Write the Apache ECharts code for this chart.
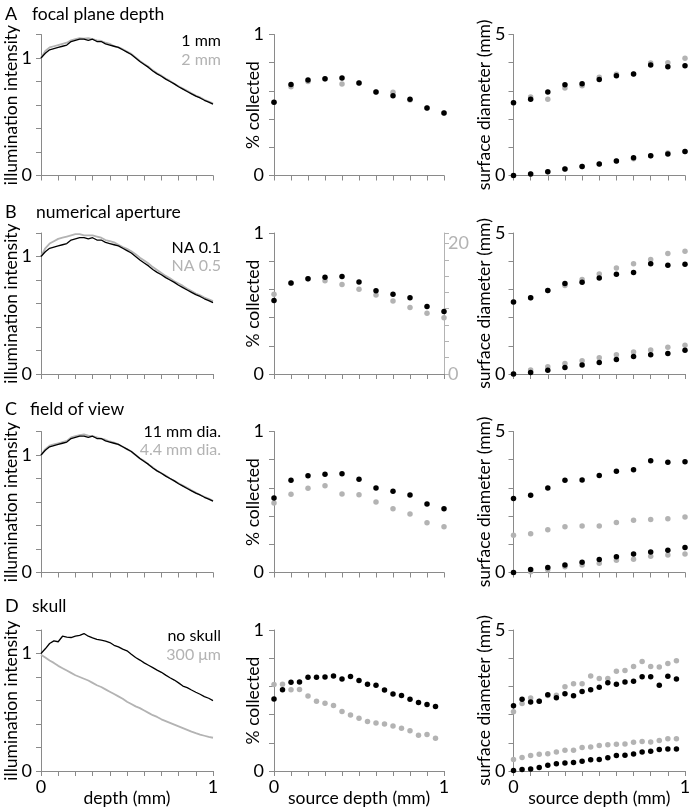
<!DOCTYPE html>
<html><head><meta charset="utf-8">
<script src="https://cdn.jsdelivr.net/npm/echarts@6/dist/echarts.min.js"></script>
<style>html,body{margin:0;padding:0;background:#fff}#c{width:695px;height:810px}</style>
</head><body><div id="c"></div>
<script>
// ---------- DATA ----------
// illumination curves sampled every 0.025 mm (41 samples)
const lineDepth = Array.from({length: 41}, (_, i) => i / 40);
const illum_ref = [1.00,1.04,1.07,1.08,1.09,1.10,1.11,1.14,1.15,1.16,1.16,1.15,1.16,1.14,1.14,1.12,1.11,1.10,1.09,1.07,1.05,1.03,1.00,0.97,0.945,0.92,0.89,0.865,0.845,0.82,0.80,0.78,0.755,0.735,0.715,0.695,0.675,0.66,0.64,0.625,0.607];
const illumA_2mm = [1.00,1.06,1.09,1.10,1.11,1.12,1.13,1.15,1.16,1.17,1.165,1.17,1.16,1.15,1.145,1.13,1.12,1.10,1.09,1.075,1.055,1.035,1.005,0.975,0.95,0.925,0.895,0.87,0.85,0.825,0.805,0.78,0.76,0.74,0.72,0.70,0.68,0.665,0.645,0.63,0.615];
const illumB_NA05 = [1.00,1.07,1.11,1.13,1.15,1.16,1.17,1.18,1.19,1.19,1.18,1.18,1.18,1.17,1.16,1.14,1.13,1.12,1.10,1.08,1.065,1.045,1.02,0.99,0.965,0.94,0.91,0.885,0.86,0.835,0.815,0.79,0.77,0.75,0.725,0.705,0.685,0.67,0.65,0.635,0.62];
const illumC_44mm = [1.00,1.05,1.08,1.09,1.10,1.11,1.12,1.15,1.16,1.17,1.175,1.165,1.16,1.15,1.14,1.13,1.115,1.105,1.09,1.07,1.05,1.03,1.00,0.97,0.95,0.92,0.895,0.865,0.845,0.825,0.80,0.78,0.76,0.74,0.72,0.70,0.68,0.66,0.645,0.63,0.61];
const illumD_noSkull = [1.00,1.04,1.085,1.107,1.10,1.147,1.14,1.136,1.147,1.155,1.17,1.147,1.133,1.12,1.113,1.105,1.093,1.07,1.056,1.037,1.023,0.994,0.966,0.944,0.92,0.90,0.88,0.859,0.84,0.816,0.794,0.774,0.75,0.723,0.709,0.689,0.67,0.653,0.633,0.619,0.599];
const illumD_300um = [0.99,0.965,0.94,0.92,0.895,0.875,0.855,0.835,0.815,0.80,0.785,0.77,0.75,0.73,0.715,0.695,0.675,0.655,0.635,0.615,0.59,0.57,0.55,0.535,0.515,0.495,0.475,0.46,0.44,0.425,0.41,0.395,0.38,0.365,0.35,0.335,0.322,0.31,0.30,0.29,0.283];

// source depths
const src11 = [0,0.1,0.2,0.3,0.4,0.5,0.6,0.7,0.8,0.9,1.0];
const src20 = [0,0.05,0.1,0.15,0.2,0.25,0.3,0.35,0.4,0.45,0.5,0.55,0.6,0.65,0.7,0.75,0.8,0.85,0.9,0.95];

// % collected
const collA_1mm = [0.519,0.645,0.678,0.687,0.692,0.656,0.592,0.566,0.540,0.479,0.443];
const collA_2mm = [0.519,0.630,0.666,0.685,0.649,0.656,0.592,0.590,0.536,0.479,0.443];
const collB_NA01 = [0.521,0.645,0.675,0.687,0.692,0.652,0.590,0.566,0.540,0.479,0.443];
const collB_NA05 = [12.2,13.9,14.6,14.3,13.7,13.0,12.1,11.2,10.2,9.3,8.6]; // right axis
const collC_11mm = [0.528,0.654,0.687,0.697,0.701,0.661,0.600,0.576,0.550,0.486,0.453];
const collC_44mm = [0.493,0.555,0.597,0.616,0.557,0.552,0.500,0.453,0.415,0.353,0.325];
const collD_noSkull = [0.511,0.576,0.630,0.632,0.665,0.665,0.667,0.674,0.653,0.670,0.642,0.616,0.609,0.574,0.546,0.536,0.508,0.485,0.471,0.457];
const collD_300um = [0.614,0.616,0.576,0.578,0.532,0.494,0.480,0.464,0.422,0.398,0.375,0.351,0.340,0.333,0.319,0.304,0.286,0.253,0.258,0.232];

// surface diameter (mm): outer / inner
const diamA_1mm_out = [2.58,2.70,2.96,3.22,3.25,3.40,3.54,3.60,3.92,3.86,3.89];
const diamA_2mm_out = [2.58,2.78,2.70,3.10,3.18,3.48,3.59,3.60,3.99,4.00,4.16];
const diamA_1mm_in = [0,0.05,0.13,0.23,0.32,0.41,0.51,0.63,0.70,0.76,0.85];
const diamA_2mm_in = [0,0.05,0.13,0.23,0.32,0.41,0.51,0.59,0.70,0.80,0.85];
const diamB_NA01_out = [2.55,2.70,2.96,3.21,3.25,3.40,3.54,3.60,3.91,3.86,3.89];
const diamB_NA05_out = [2.55,2.70,2.96,3.14,3.35,3.55,3.76,3.91,4.06,4.27,4.35];
const diamB_NA01_in = [0,0.05,0.13,0.23,0.32,0.41,0.51,0.62,0.68,0.73,0.84];
const diamB_NA05_in = [0,0.14,0.26,0.37,0.47,0.58,0.68,0.78,0.85,0.95,1.02];
const diamC_11mm_out = [2.62,2.74,3.00,3.27,3.28,3.44,3.59,3.64,3.96,3.91,3.93];
const diamC_44mm_out = [1.32,1.37,1.52,1.62,1.65,1.65,1.77,1.85,1.88,1.91,1.97];
const diamC_11mm_in = [0,0.11,0.18,0.27,0.36,0.46,0.56,0.66,0.73,0.79,0.89];
const diamC_44mm_in = [0,0.03,0.10,0.20,0.27,0.33,0.43,0.47,0.58,0.62,0.66];
const diamD_noSkull_out = [2.31,2.54,2.45,2.47,2.70,2.60,2.74,2.67,2.82,2.88,2.97,3.13,3.08,3.16,3.18,3.34,3.34,3.04,3.36,3.26];
const diamD_300um_out = [2.10,2.39,2.59,2.47,2.68,2.69,2.99,3.09,3.09,3.37,3.28,3.28,3.54,3.56,3.71,3.88,3.71,3.69,3.81,3.91];
const diamD_noSkull_in = [0.02,0.05,0.07,0.12,0.20,0.26,0.28,0.30,0.35,0.40,0.41,0.47,0.55,0.56,0.60,0.67,0.70,0.76,0.78,0.78];
const diamD_300um_in = [0.41,0.48,0.55,0.59,0.61,0.67,0.74,0.74,0.83,0.85,0.90,0.93,0.95,0.96,1.02,1.05,1.03,1.08,1.14,1.14];

const rowTitles = [['A','focal plane depth'],['B','numerical aperture'],['C','field of view'],['D','skull']];
const legends = [['1 mm','2 mm'],['NA 0.1','NA 0.5'],['11 mm dia.','4.4 mm dia.'],['no skull','300 \u03bcm']];

// ---------- LAYOUT ----------
const FONT = 'Lato, "Noto Sans", sans-serif';
const AX = '#8a8a8a';
const GRAY = '#b3b3b3';
const COLS = [{left:41,width:172},{left:274,width:170},{left:513.5,width:171.5}];
const ROW_TOPS = [34.5, 233, 431.5, 630];
const GRID_H = 141;
const TITLE_Y = [14, 212, 409.5, 606.5];
const TITLE_X2 = [32, 36, 30, 32];
const LEG_Y = [[41,60],[247.5,266],[431.5,450],[636,654.5]];

const grids = [], xAxes = [], yAxes = [], series = [], graphics = [];
const yCfg = [
  {max:1.2, interval:0.2, name:'illumination intensity', gap:21, top:1, margin:9},
  {max:1, interval:0.2, name:'% collected', gap:12, top:1, margin:10},
  {max:5, interval:1, name:'surface diameter (mm)', gap:20, top:5, margin:8}
];
const gridIdx = {};
for (let r = 0; r < 4; r++) {
  for (let c = 0; c < 3; c++) {
    const idx = grids.length;
    gridIdx[r + '_' + c] = idx;
    grids.push({left: COLS[c].left, width: COLS[c].width, top: ROW_TOPS[r], height: GRID_H});
    const last = r === 3;
    xAxes.push({
      gridIndex: idx, type: 'value', min: 0, max: 1, interval: 0.1,
      axisLine: {show: true, onZero: false, lineStyle: {color: AX, width: 1}},
      axisTick: {show: true, length: 5, lineStyle: {color: AX}},
      splitLine: {show: false},
      axisLabel: {show: last, color: '#000', fontSize: 18, fontFamily: FONT, margin: 7,
        formatter: v => (Math.abs(v) < 1e-9 ? '0' : (Math.abs(v - 1) < 1e-9 ? '1' : ''))},
      name: last ? (c === 0 ? 'depth (mm)' : 'source depth (mm)') : '',
      nameLocation: 'middle', nameGap: 18, nameMoveOverlap: false,
      nameTextStyle: {color: '#000', fontSize: 17.5, fontFamily: FONT}
    });
    const y = yCfg[c];
    yAxes.push({
      gridIndex: idx, type: 'value', min: 0, max: y.max, interval: y.interval,
      axisLine: {show: true, onZero: false, lineStyle: {color: AX, width: 1}},
      axisTick: {show: true, length: 5, lineStyle: {color: AX}},
      splitLine: {show: false},
      axisLabel: {color: '#000', fontSize: 18, fontFamily: FONT, margin: y.margin,
        formatter: v => (Math.abs(v) < 1e-9 ? '0' : (Math.abs(v - y.top) < 1e-9 ? String(y.top) : ''))},
      name: y.name, nameLocation: 'middle', nameGap: y.gap, nameRotate: 90, nameMoveOverlap: false,
      nameTextStyle: {color: '#000', fontSize: 17.5, fontFamily: FONT}
    });
  }
}
// secondary (right) axis for panel B middle
const bMid = gridIdx['1_1'];
const rightAxisIdx = yAxes.length;
yAxes.push({
  gridIndex: bMid, type: 'value', position: 'right', min: 0, max: 21.6, interval: 2.5,
  axisLine: {show: true, onZero: false, lineStyle: {color: GRAY, width: 1}},
  axisTick: {show: true, length: 5, lineStyle: {color: GRAY}},
  splitLine: {show: false},
  axisLabel: {color: GRAY, fontSize: 18, fontFamily: FONT, margin: 4,
    formatter: v => (Math.abs(v) < 1e-9 ? '0' : (Math.abs(v - 20) < 1e-9 ? '20' : ''))}
});

function zip(xs, ys) { return xs.map((x, i) => [x, ys[i]]); }
function line(gi, ys, color, w, yi) {
  series.push({type: 'line', xAxisIndex: gi, yAxisIndex: yi === undefined ? gi : yi,
    data: zip(lineDepth, ys), showSymbol: false, symbol: 'none', animation: false,
    lineStyle: {color: color, width: w, opacity: 1}, z: color === '#000' ? 3 : 2});
}
function dots(gi, xs, ys, color, yi) {
  series.push({type: 'scatter', xAxisIndex: gi, yAxisIndex: yi === undefined ? gi : yi,
    data: zip(xs, ys), symbol: 'circle', symbolSize: 5.5, animation: false,
    itemStyle: {color: color, opacity: 1}, z: color === '#000' ? 3 : 2});
}

// Row A
line(gridIdx['0_0'], illumA_2mm, GRAY, 1.8);
line(gridIdx['0_0'], illum_ref, '#000', 1.3);
dots(gridIdx['0_1'], src11, collA_2mm, GRAY);
dots(gridIdx['0_1'], src11, collA_1mm, '#000');
dots(gridIdx['0_2'], src11, diamA_2mm_out, GRAY);
dots(gridIdx['0_2'], src11, diamA_2mm_in, GRAY);
dots(gridIdx['0_2'], src11, diamA_1mm_out, '#000');
dots(gridIdx['0_2'], src11, diamA_1mm_in, '#000');
// Row B
line(gridIdx['1_0'], illumB_NA05, GRAY, 1.8);
line(gridIdx['1_0'], illum_ref, '#000', 1.3);
dots(bMid, src11, collB_NA05, GRAY, rightAxisIdx);
dots(bMid, src11, collB_NA01, '#000');
dots(gridIdx['1_2'], src11, diamB_NA05_out, GRAY);
dots(gridIdx['1_2'], src11, diamB_NA05_in, GRAY);
dots(gridIdx['1_2'], src11, diamB_NA01_out, '#000');
dots(gridIdx['1_2'], src11, diamB_NA01_in, '#000');
// Row C
line(gridIdx['2_0'], illumC_44mm, GRAY, 1.8);
line(gridIdx['2_0'], illum_ref, '#000', 1.3);
dots(gridIdx['2_1'], src11, collC_44mm, GRAY);
dots(gridIdx['2_1'], src11, collC_11mm, '#000');
dots(gridIdx['2_2'], src11, diamC_44mm_out, GRAY);
dots(gridIdx['2_2'], src11, diamC_44mm_in, GRAY);
dots(gridIdx['2_2'], src11, diamC_11mm_out, '#000');
dots(gridIdx['2_2'], src11, diamC_11mm_in, '#000');
// Row D
line(gridIdx['3_0'], illumD_300um, GRAY, 1.8);
line(gridIdx['3_0'], illumD_noSkull, '#000', 1.3);
dots(gridIdx['3_1'], src20, collD_300um, GRAY);
dots(gridIdx['3_1'], src20, collD_noSkull, '#000');
dots(gridIdx['3_2'], src20, diamD_300um_out, GRAY);
dots(gridIdx['3_2'], src20, diamD_300um_in, GRAY);
dots(gridIdx['3_2'], src20, diamD_noSkull_out, '#000');
dots(gridIdx['3_2'], src20, diamD_noSkull_in, '#000');

// titles & legends
for (let r = 0; r < 4; r++) {
  graphics.push({type: 'text', x: 5, y: TITLE_Y[r], style: {text: rowTitles[r][0], font: '18px ' + FONT, fill: '#000', align: 'left', verticalAlign: 'middle'}});
  graphics.push({type: 'text', x: TITLE_X2[r], y: TITLE_Y[r], style: {text: rowTitles[r][1], font: '17.5px ' + FONT, fill: '#000', align: 'left', verticalAlign: 'middle'}});
  graphics.push({type: 'text', x: 221, y: LEG_Y[r][0], style: {text: legends[r][0], font: '16px ' + FONT, fill: '#000', align: 'right', verticalAlign: 'middle'}});
  graphics.push({type: 'text', x: 221, y: LEG_Y[r][1], style: {text: legends[r][1], font: '16px ' + FONT, fill: GRAY, align: 'right', verticalAlign: 'middle'}});
}

const chart = echarts.init(document.getElementById('c'), null, {renderer: 'canvas'});
chart.setOption({
  animation: false,
  backgroundColor: '#fff',
  textStyle: {fontFamily: FONT},
  grid: grids, xAxis: xAxes, yAxis: yAxes, series: series, graphic: graphics
});
</script>
</body></html>
